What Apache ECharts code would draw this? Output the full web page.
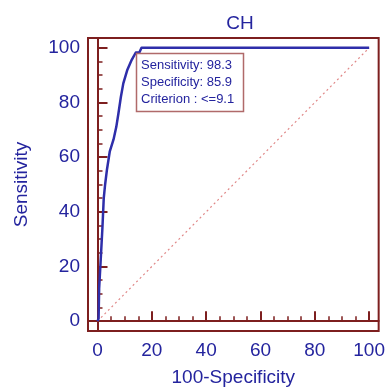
<!DOCTYPE html>
<html>
<head>
<meta charset="utf-8">
<script src="https://cdn.jsdelivr.net/npm/echarts@6/dist/echarts.min.js"></script>
<style>
  html, body { margin: 0; padding: 0; background: #fff; }
  #chart { width: 388px; height: 392px; }
</style>
</head>
<body>
<div id="chart"></div>
<script>
// ROC curve points: [100-Specificity, Sensitivity]
const rocX = [0, 0.4, 0.6, 1.1, 1.8, 2.3, 2.8, 3.5, 4.5, 5.9, 6.9, 7.7, 8.6, 9.5, 11, 12.6, 14.1, 15.4, 16.2, 100];
const rocY = [0, 1, 12, 21, 34, 45, 50, 55.6, 62, 66.5, 71, 76, 82, 87, 92, 95.6, 98.3, 98.3, 100, 100];
const majorTicks = [0, 20, 40, 60, 80, 100];
const minorTicks = [5, 10, 15, 25, 30, 35, 45, 50, 55, 65, 70, 75, 85, 90, 95];
const noteLines = ['Sensitivity: 98.3', 'Specificity: 85.9', 'Criterion : <=9.1'];

const frameColor = '#7d1f1f';
const textColor = '#24249e';
const fontFamily = 'Liberation Sans, Arial, sans-serif';

const myEcharts = echarts.init(document.getElementById('chart'));

function majorAxis(name, nameGap, min, max) {
    return {
        type: 'value',
        min: min,
        max: max,
        name: name,
        nameLocation: 'middle',
        nameGap: nameGap,
        nameTextStyle: { color: textColor, fontSize: 19, fontFamily: fontFamily },
        axisLine: { show: true, lineStyle: { color: frameColor, width: 2 } },
        axisTick: {
            show: true,
            inside: true,
            length: 10,
            customValues: majorTicks,
            lineStyle: { color: frameColor, width: 2 }
        },
        axisLabel: {
            customValues: majorTicks,
            color: textColor,
            fontSize: 19,
            fontFamily: fontFamily,
            margin: 8
        },
        splitLine: { show: false }
    };
}

function minorAxis(position, min, max) {
    return {
        type: 'value',
        position: position,
        min: min,
        max: max,
        axisLine: { show: false },
        axisTick: {
            show: true,
            inside: true,
            length: 5,
            customValues: minorTicks,
            lineStyle: { color: frameColor, width: 1.5 }
        },
        axisLabel: { show: false },
        splitLine: { show: false }
    };
}

const xMajor = majorAxis('100-Specificity', 37, -3.5, 103.5);
xMajor.axisLabel.margin = 10;
const yMajor = majorAxis('Sensitivity', 57, -3.6, 103.6);

const option = {
    animation: false,
    title: {
        text: 'CH',
        left: 235,
        top: 9,
        textAlign: 'center',
        textStyle: { color: textColor, fontSize: 19, fontWeight: 'normal', fontFamily: fontFamily }
    },
    grid: {
        left: 88,
        right: 6,
        top: 38,
        bottom: 59,
        show: true,
        borderColor: frameColor,
        borderWidth: 2
    },
    xAxis: [xMajor, minorAxis('bottom', -3.5, 103.5)],
    yAxis: [yMajor, minorAxis('left', -3.6, 103.6)],
    series: [
        {
            type: 'line',
            data: [[0, 0], [100, 100]],
            symbol: 'none',
            silent: true,
            lineStyle: { color: '#e08888', width: 1.2, type: [2, 3] }
        },
        {
            type: 'line',
            data: rocX.map((x, i) => [x, rocY[i]]),
            symbol: 'none',
            lineStyle: { color: '#2e2eaa', width: 2.5, join: 'round' }
        }
    ],
    graphic: [
        {
            type: 'rect',
            shape: { x: 136.5, y: 53.5, width: 107, height: 58 },
            style: { fill: '#fff', stroke: '#b06a6a', lineWidth: 1.5 },
            z: 100
        },
        {
            type: 'text',
            x: 141,
            y: 57,
            style: {
                text: noteLines.join('\n'),
                fill: textColor,
                font: '13px ' + fontFamily,
                lineHeight: 17
            },
            z: 101
        }
    ]
};

myEcharts.setOption(option);
</script>
</body>
</html>
